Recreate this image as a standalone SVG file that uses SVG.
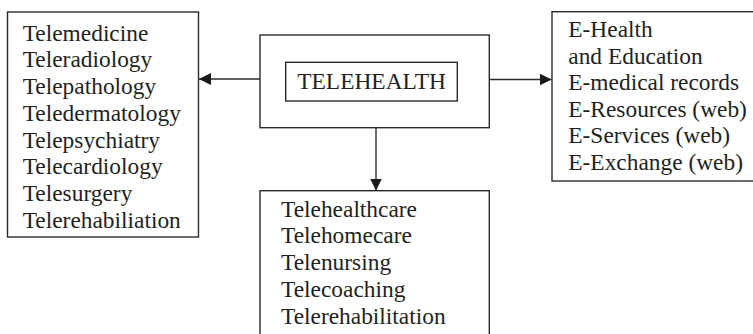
<svg xmlns="http://www.w3.org/2000/svg" width="753" height="334" viewBox="0 0 753 334">
<style>
.box{fill:#fff;stroke:#2b2b2b;stroke-width:1.4}
.t{font-family:"Liberation Serif","Times New Roman",serif;font-size:23.4px;fill:#231f20}
.c{stroke:#2b2b2b;stroke-width:1.4;fill:none}
</style>
<defs>
<marker id="ah" viewBox="0 0 12 12" refX="12" refY="6" markerWidth="12" markerHeight="12" markerUnits="userSpaceOnUse" orient="auto">
<path d="M0,0 L12,6 L0,12 Z" fill="#1a1a1a"/>
</marker>
</defs>
<rect width="753" height="334" fill="#fff"/>
<g id="connectors">
<line class="c" x1="260" y1="79" x2="199" y2="79" marker-end="url(#ah)"/>
<line class="c" x1="489" y1="79.5" x2="551.5" y2="79.5" marker-end="url(#ah)"/>
<line class="c" x1="376" y1="128" x2="376" y2="190.5" marker-end="url(#ah)"/>
</g>
<g id="left">
<rect class="box" x="7.5" y="12" width="191" height="225"/>
<text class="t" x="22.7"><tspan x="22.7" y="40.7">Telemedicine</tspan><tspan x="22.7" y="67.4">Teleradiology</tspan><tspan x="22.7" y="94.1">Telepathology</tspan><tspan x="22.7" y="120.8">Teledermatology</tspan><tspan x="22.7" y="147.5">Telepsychiatry</tspan><tspan x="22.7" y="174.2">Telecardiology</tspan><tspan x="22.7" y="200.9">Telesurgery</tspan><tspan x="22.7" y="227.6">Telerehabiliation</tspan></text>
</g>
<g id="center">
<rect class="box" x="260" y="35" width="229.3" height="92.7"/>
<rect class="box" x="285.7" y="62.3" width="171.6" height="38.7"/>
<text class="t" x="297.3" y="89">TELEHEALTH</text>
</g>
<g id="right">
<rect class="box" x="552" y="11.7" width="210" height="169.3"/>
<text class="t"><tspan x="568.3" y="37.3">E-Health</tspan><tspan x="568.3" y="63.8">and Education</tspan><tspan x="568.3" y="90.3">E-medical records</tspan><tspan x="568.3" y="116.8">E-Resources (web)</tspan><tspan x="568.3" y="143.3">E-Services (web)</tspan><tspan x="568.3" y="169.8">E-Exchange (web)</tspan></text>
</g>
<g id="bottom">
<rect class="box" x="260" y="190.7" width="229.3" height="160"/>
<text class="t"><tspan x="281" y="216.7">Telehealthcare</tspan><tspan x="281" y="243.4">Telehomecare</tspan><tspan x="281" y="270.1">Telenursing</tspan><tspan x="281" y="296.8">Telecoaching</tspan><tspan x="281" y="323.5">Telerehabilitation</tspan></text>
</g>
</svg>
